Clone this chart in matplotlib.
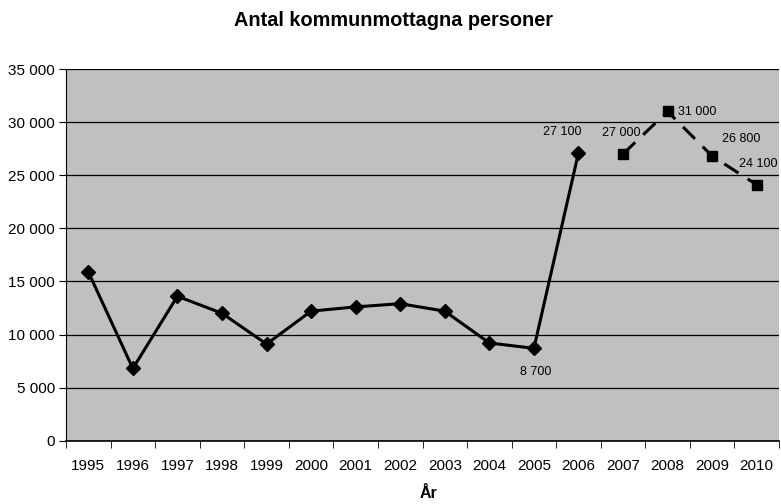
import matplotlib
matplotlib.use("Agg")
import matplotlib.pyplot as plt
from matplotlib.ticker import FuncFormatter

plt.rcParams['font.family'] = ['Liberation Sans', 'DejaVu Sans']

years = ['1995', '1996', '1997', '1998', '1999', '2000', '2001', '2002',
         '2003', '2004', '2005', '2006', '2007', '2008', '2009', '2010']
actual = [15900, 6800, 13600, 12000, 9100, 12200, 12600, 12900,
          12200, 9200, 8700, 27100]
forecast = [27000, 31000, 26800, 24100]

title = 'Antal kommunmottagna personer'
xlabel = 'År'

fig = plt.figure(figsize=(7.81, 5.04), dpi=100)
ax = fig.add_axes([66/781, 1-440.7/504, 713/781, (440.7-69)/504])
ax.set_facecolor('#C0C0C0')

n = len(years)
xa = list(range(len(actual)))
xf = list(range(len(actual), n))

ax.plot(xa, actual, color='black', lw=2.2, marker='D', ms=7.5,
        markerfacecolor='black', markeredgecolor='black', zorder=3)
ax.plot(xf, forecast, color='black', lw=2.2, marker='s', ms=7.5,
        markerfacecolor='black', markeredgecolor='black', zorder=3,
        dashes=(5.5, 3.6))

ax.set_xlim(-0.5, n - 0.5)
ax.set_ylim(0, 35000)
ax.set_yticks(range(0, 35001, 5000))
ax.yaxis.set_major_formatter(FuncFormatter(lambda v, p: f'{int(v):,}'.replace(',', ' ')))
ax.set_xticks(range(n))
ax.set_xticklabels(years)
ax.set_xticks([i - 0.5 for i in range(n + 1)], minor=True)
ax.tick_params(axis='x', which='major', length=0, pad=13, labelsize=11)
ax.tick_params(axis='x', which='minor', length=5, color='black')
ax.tick_params(axis='y', length=5, labelsize=11, pad=3)
ax.grid(axis='y', color='black', lw=0.9)
ax.set_axisbelow(True)
for s in ['top', 'right']:
    ax.spines[s].set_visible(False)
ax.spines['left'].set_color('black')
ax.spines['bottom'].set_color('black')
ax.spines['bottom'].set_linewidth(1.2)

def fmt(v):
    return f'{v:,}'.replace(',', ' ')

labels = [
    (10, actual[10], (2, -24)),
    (11, actual[11], (-16, 21)),
    (12, forecast[0], (-2, 21)),
    (13, forecast[1], (30, -1)),
    (14, forecast[2], (29, 17)),
    (15, forecast[3], (2, 21)),
]
for x, v, off in labels:
    ax.annotate(fmt(v), (x, v), xytext=off, textcoords='offset pixels',
                ha='center', va='center', fontsize=9)

fig.text(393/781, 1-21/504, title, ha='center', va='center',
         fontsize=14.3, fontweight='bold')
fig.text(429/781, 1-494/504, xlabel, ha='center', va='center',
         fontsize=11.5, fontweight='bold')

fig.savefig('out.png', dpi=100)
